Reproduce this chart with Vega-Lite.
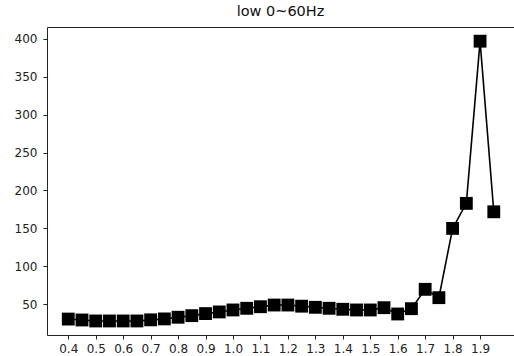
{
  "$schema": "https://vega.github.io/schema/vega-lite/v6.json",
  "width": 467,
  "height": 308,
  "autosize": {"type": "none"},
  "padding": {"left": 47, "top": 27, "right": 0, "bottom": 21},
  "background": "white",
  "title": {"text": "low 0~60Hz", "fontSize": 14.5, "fontWeight": "normal", "font": "DejaVu Sans", "color": "#111", "offset": 8, "anchor": "middle"},
  "config": {
    "view": {"stroke": "#222", "strokeWidth": 1},
    "axis": {"grid": false, "domain": false, "tickColor": "#222", "tickSize": 4, "labelFont": "DejaVu Sans", "labelFontSize": 12, "labelColor": "#222", "title": null}
  },
  "data": {"values": [
    {"x": 0.40, "y": 30.5},
    {"x": 0.45, "y": 29.3},
    {"x": 0.50, "y": 28},
    {"x": 0.55, "y": 28},
    {"x": 0.60, "y": 28},
    {"x": 0.65, "y": 28},
    {"x": 0.70, "y": 29.5},
    {"x": 0.75, "y": 30.7},
    {"x": 0.80, "y": 32.9},
    {"x": 0.85, "y": 35},
    {"x": 0.90, "y": 37.7},
    {"x": 0.95, "y": 39.9},
    {"x": 1.00, "y": 42.5},
    {"x": 1.05, "y": 44.7},
    {"x": 1.10, "y": 46.8},
    {"x": 1.15, "y": 49},
    {"x": 1.20, "y": 49},
    {"x": 1.25, "y": 47.5},
    {"x": 1.30, "y": 46},
    {"x": 1.35, "y": 44.7},
    {"x": 1.40, "y": 43.4},
    {"x": 1.45, "y": 42.5},
    {"x": 1.50, "y": 42.5},
    {"x": 1.55, "y": 45.5},
    {"x": 1.60, "y": 37.2},
    {"x": 1.65, "y": 44.2},
    {"x": 1.70, "y": 69.7},
    {"x": 1.75, "y": 58.7},
    {"x": 1.80, "y": 150},
    {"x": 1.85, "y": 183},
    {"x": 1.90, "y": 396.8},
    {"x": 1.95, "y": 171.9}
  ]},
  "encoding": {
    "x": {"field": "x", "type": "quantitative",
      "scale": {"domain": [0.3225, 2.0236], "nice": false, "zero": false},
      "axis": {"values": [0.4, 0.5, 0.6, 0.7, 0.8, 0.9, 1.0, 1.1, 1.2, 1.3, 1.4, 1.5, 1.6, 1.7, 1.8, 1.9], "format": ".1f", "labelPadding": 4, "labelFlush": false}},
    "y": {"field": "y", "type": "quantitative",
      "scale": {"domain": [9.5, 415.5], "nice": false, "zero": false},
      "axis": {"values": [50, 100, 150, 200, 250, 300, 350, 400], "labelPadding": 6}}
  },
  "layer": [
    {"mark": {"type": "line", "color": "black", "strokeWidth": 1.6}},
    {"mark": {"type": "point", "shape": "square", "filled": true, "color": "black", "opacity": 1, "size": 165}}
  ]
}
